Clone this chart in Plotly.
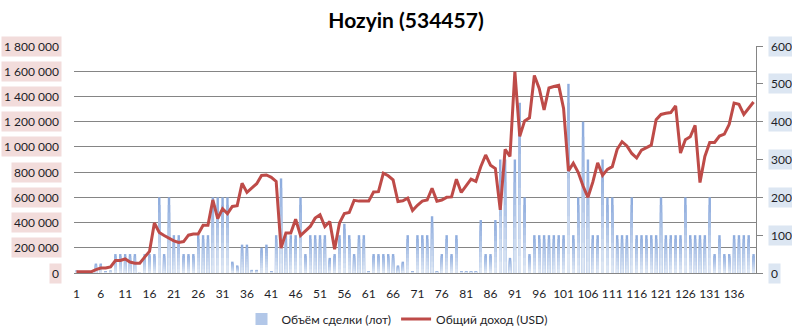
import plotly.graph_objects as go

# ---------------- data ----------------
categories = list(range(1, 141))

volume_lots = [
    20000, 0, 0, 0, 75000, 75000, 10000, 20000, 150000, 150000,
    150000, 150000, 150000, 5000, 150000, 150000, 150000, 600000, 150000, 600000,
    300000, 300000, 150000, 150000, 150000, 300000, 300000, 300000, 600000, 600000,
    600000, 600000, 90000, 60000, 225000, 225000, 25000, 25000, 200000, 225000,
    10000, 300000, 750000, 300000, 300000, 300000, 600000, 150000, 300000, 300000,
    300000, 300000, 120000, 150000, 300000, 390000, 300000, 150000, 300000, 300000,
    10000, 150000, 150000, 150000, 150000, 150000, 60000, 90000, 300000, 10000,
    300000, 300000, 300000, 450000, 10000, 150000, 300000, 150000, 300000, 10000,
    10000, 10000, 10000, 420000, 150000, 150000, 420000, 900000, 900000, 120000,
    900000, 1350000, 600000, 150000, 300000, 300000, 300000, 300000, 300000, 300000,
    300000, 1500000, 300000, 600000, 1200000, 900000, 300000, 300000, 900000, 600000,
    600000, 300000, 300000, 300000, 600000, 300000, 300000, 300000, 300000, 300000,
    600000, 300000, 300000, 300000, 300000, 600000, 300000, 300000, 300000, 300000,
    600000, 150000, 300000, 150000, 150000, 300000, 300000, 300000, 300000, 150000,
]

income_usd = [
    3, 3, 3, 3, 9, 13, 13, 16, 33, 33,
    37, 29, 26, 26, 42, 57, 132, 107, 99, 91,
    85, 81, 83, 100, 103, 103, 126, 126, 193, 144,
    170, 157, 176, 178, 237, 213, 224, 236, 258, 259,
    253, 242, 66, 106, 106, 142, 99, 110, 123, 145,
    154, 123, 136, 63, 132, 157, 160, 192, 190, 190,
    190, 214, 215, 264, 257, 246, 189, 191, 198, 165,
    179, 190, 193, 224, 190, 193, 200, 201, 248, 213,
    230, 248, 242, 281, 312, 285, 276, 167, 327, 308,
    532, 361, 402, 410, 522, 488, 431, 489, 493, 496,
    435, 270, 290, 266, 230, 200, 240, 291, 258, 274,
    281, 327, 347, 336, 316, 304, 325, 332, 338, 405,
    419, 422, 424, 442, 317, 352, 360, 390, 239, 308,
    345, 345, 362, 367, 393, 449, 446, 419, 434, 452,
]

x_tick_labels = list(range(1, 141, 5))
left_ticks = [0, 200000, 400000, 600000, 800000, 1000000, 1200000, 1400000, 1600000, 1800000]
right_ticks = [0, 100, 200, 300, 400, 500, 600]

title_text = "Hozyin (534457)"
bar_name = "Объём сделки (лот)"
line_name = "Общий доход (USD)"

# ---------------- styling ----------------
FONT = "Lato"
TEXT = "#1e1e28"
GRID = "#858585"
top_rgb = (143, 173, 222)
bot_rgb = (222, 231, 244)
LAYERS = 10


def fmt(v):
    return f"{v:,}".replace(",", " ")


fig = go.Figure()

# gradient bars: overlaid layers, each shorter and lighter
for k in range(LAYERS):
    frac = 1 - k / LAYERS
    t = k / (LAYERS - 1)
    c = tuple(round(top_rgb[j] + (bot_rgb[j] - top_rgb[j]) * t) for j in range(3))
    fig.add_trace(go.Bar(
        x=categories,
        y=[v * frac for v in volume_lots],
        width=0.5,
        marker=dict(color=f"rgb{c}", line=dict(width=0)),
        name=bar_name,
        showlegend=(k == 4),
        legendrank=1,
        hoverinfo="skip" if k else None,
        yaxis="y",
    ))

fig.add_trace(go.Scatter(
    x=categories,
    y=income_usd,
    mode="lines",
    line=dict(color="#be4b48", width=3),
    name=line_name,
    legendrank=2,
    yaxis="y2",
))

annotations = []
for v in left_ticks:
    annotations.append(dict(
        text=fmt(v), xref="paper", yref="y", x=0, y=v,
        xanchor="right", yanchor="middle", xshift=-12, showarrow=False,
        bgcolor="#f2dcdb", borderpad=2,
        font=dict(family=FONT, size=12, color=TEXT),
    ))
for v in right_ticks:
    annotations.append(dict(
        text=str(v), xref="paper", yref="y2", x=1, y=v,
        xanchor="left", yanchor="middle", xshift=12, showarrow=False,
        bgcolor="#dce6f2", borderpad=2,
        font=dict(family=FONT, size=12, color=TEXT),
    ))

fig.update_layout(
    width=792, height=331,
    margin=dict(l=74, r=36, t=46, b=58, autoexpand=False),
    paper_bgcolor="white", plot_bgcolor="white",
    barmode="overlay",
    font=dict(family=FONT, size=12, color=TEXT),
    title=dict(text=f"<b>{title_text}</b>", x=406 / 792, xref="container",
               xanchor="center", y=1 - 21 / 331, yanchor="middle",
               font=dict(family=FONT, size=21, color="black")),
    xaxis=dict(range=[0.5, 140.5], tickvals=x_tick_labels,
               ticktext=[str(v) for v in x_tick_labels],
               showgrid=False, zeroline=False, showline=True, linecolor=GRID,
               ticks="outside", ticklen=10, tickcolor="rgba(0,0,0,0)",
               automargin=False,
               tickfont=dict(family=FONT, size=12, color=TEXT)),
    yaxis=dict(range=[0, 1800000], tickvals=left_ticks, showticklabels=False,
               showgrid=True, gridcolor=GRID, gridwidth=1, zeroline=False,
               automargin=False),
    yaxis2=dict(range=[0, 600], tickvals=right_ticks, showticklabels=False,
                overlaying="y", side="right", showgrid=False, zeroline=False,
                showline=True, linecolor=GRID, ticks="outside", ticklen=6,
                tickcolor=GRID, automargin=False),
    legend=dict(orientation="h", xref="container", yref="container",
                x=397 / 792, xanchor="center", y=12 / 331, yanchor="middle",
                font=dict(family=FONT, size=12, color=TEXT),
                itemwidth=30, tracegroupgap=0),
    annotations=annotations,
    showlegend=True,
)

fig.write_html("out.html")
